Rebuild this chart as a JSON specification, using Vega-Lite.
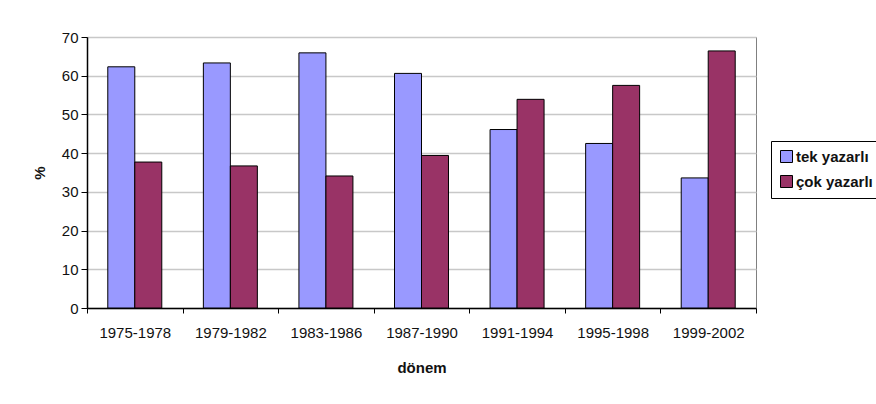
{
  "$schema": "https://vega.github.io/schema/vega-lite/v6.json",
  "autosize": {"type": "none"},
  "width": 669,
  "height": 271,
  "padding": {"left": 87, "top": 37, "right": 120, "bottom": 96},
  "background": "white",
  "config": {
    "font": "Liberation Sans",
    "view": {"stroke": "#808080", "strokeWidth": 1}
  },
  "data": {
    "values": [
      {"donem": "1975-1978", "seri": "tek yazarlı", "deger": 62.3},
      {"donem": "1975-1978", "seri": "çok yazarlı", "deger": 37.7},
      {"donem": "1979-1982", "seri": "tek yazarlı", "deger": 63.3},
      {"donem": "1979-1982", "seri": "çok yazarlı", "deger": 36.7},
      {"donem": "1983-1986", "seri": "tek yazarlı", "deger": 65.9},
      {"donem": "1983-1986", "seri": "çok yazarlı", "deger": 34.1},
      {"donem": "1987-1990", "seri": "tek yazarlı", "deger": 60.6},
      {"donem": "1987-1990", "seri": "çok yazarlı", "deger": 39.4},
      {"donem": "1991-1994", "seri": "tek yazarlı", "deger": 46.1},
      {"donem": "1991-1994", "seri": "çok yazarlı", "deger": 53.9},
      {"donem": "1995-1998", "seri": "tek yazarlı", "deger": 42.5},
      {"donem": "1995-1998", "seri": "çok yazarlı", "deger": 57.5},
      {"donem": "1999-2002", "seri": "tek yazarlı", "deger": 33.6},
      {"donem": "1999-2002", "seri": "çok yazarlı", "deger": 66.4}
    ]
  },
  "mark": {"type": "bar", "stroke": "black", "strokeWidth": 1, "opacity": 1},
  "encoding": {
    "x": {
      "field": "donem",
      "type": "nominal",
      "sort": null,
      "scale": {"paddingInner": 0, "paddingOuter": 0},
      "axis": {
        "title": "dönem",
        "titleFont": "Liberation Sans",
        "titleFontSize": 15,
        "titleFontWeight": "bold",
        "titleColor": "#111",
        "titlePadding": 20,
        "labelAngle": 0,
        "labelFontSize": 15,
        "labelColor": "#111",
        "labelPadding": 12,
        "tickBand": "extent",
        "tickColor": "black",
        "tickSize": 5,
        "domainColor": "black",
        "domainWidth": 1.5,
        "grid": false
      }
    },
    "xOffset": {
      "field": "seri",
      "type": "nominal",
      "sort": ["tek yazarlı", "çok yazarlı"],
      "scale": {"paddingInner": 0, "paddingOuter": 0.77}
    },
    "y": {
      "field": "deger",
      "type": "quantitative",
      "scale": {"domain": [0, 70], "nice": false},
      "axis": {
        "title": "%",
        "titleFont": "Liberation Sans",
        "titleFontSize": 15,
        "titleFontWeight": "bold",
        "titleColor": "#111",
        "titlePadding": 14,
        "values": [0, 10, 20, 30, 40, 50, 60, 70],
        "labelFontSize": 15,
        "labelColor": "#111",
        "labelPadding": 3,
        "tickColor": "black",
        "tickSize": 6,
        "domainColor": "black",
        "domainWidth": 1.5,
        "grid": true,
        "gridColor": "#c8c8c8",
        "gridWidth": 1.5
      }
    },
    "color": {
      "field": "seri",
      "type": "nominal",
      "sort": ["tek yazarlı", "çok yazarlı"],
      "scale": {"domain": ["tek yazarlı", "çok yazarlı"], "range": ["#9999FF", "#993366"]},
      "legend": {
        "title": null,
        "orient": "none",
        "legendX": 684,
        "legendY": 104,
        "symbolType": "square",
        "symbolSize": 144,
        "symbolStrokeColor": "black",
        "symbolStrokeWidth": 1,
        "symbolOpacity": 1,
        "labelFontSize": 15,
        "labelFontWeight": "bold",
        "labelColor": "#111",
        "labelOffset": 2,
        "rowPadding": 8,
        "padding": 8,
        "strokeColor": "black",
        "fillColor": "white"
      }
    }
  }
}
